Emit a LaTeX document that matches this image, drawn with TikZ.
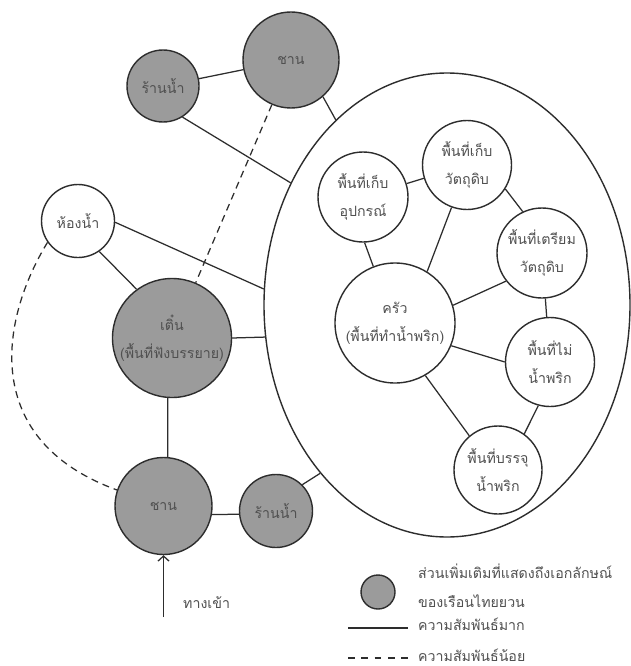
\documentclass[tikz,border=0pt]{standalone}
\usepackage{fontspec}
\newfontfamily\thaifont[Script=Thai]{Loma}
\usetikzlibrary{shapes.geometric,arrows.meta}
\definecolor{fillg}{RGB}{155,155,155}
\definecolor{lineg}{RGB}{45,45,45}
\definecolor{textg}{RGB}{80,80,80}
\begin{document}
\begin{tikzpicture}[x=1pt,y=-1pt,
  every node/.style={font=\thaifont\fontsize{14.2}{28}\selectfont, text=textg, align=center, inner sep=0pt},
  room/.style={circle, draw=lineg, line width=1.4pt, minimum size=#1, fill=white},
  extra/.style={room=#1, fill=fillg},
  link/.style={draw=lineg, line width=1.25pt},
  weak/.style={draw=lineg, line width=1.25pt, dash pattern=on 7pt off 5pt},
  legtext/.style={anchor=west}
]
\useasboundingbox (0,0) rectangle (630,666);
\fill[white] (0,0) rectangle (630,666);

% big ellipse
\node[ellipse, draw=lineg, line width=1.4pt, minimum width=366pt, minimum height=464pt] (ell) at (447,305) {};

% outer nodes
\node[extra=72pt] (ranT) at (163,86) {ร้านน้ำ};
\node[extra=96pt] (chanT) at (291,60) {ชาน};
\node[room=73pt] (hong) at (78,221) {ห้องน้ำ};
\node[extra=119pt] (tern) at (172,338) {เติ๋น\\(พื้นที่ฟังบรรยาย)};
\node[extra=97pt] (chanB) at (163.5,506) {ชาน};
\node[extra=73pt] (ranB) at (276,511) {ร้านน้ำ};

% inner nodes
\node[room=90pt] (upk) at (363,197) {พื้นที่เก็บ\\อุปกรณ์};
\node[room=89pt] (kepw) at (467,165) {พื้นที่เก็บ\\วัตถุดิบ};
\node[room=90pt] (triam) at (542,253) {พื้นที่เตรียม\\วัตถุดิบ};
\node[room=120pt] (krua) at (395,323) {ครัว\\(พื้นที่ทำน้ำพริก)};
\node[room=89pt] (mai) at (550,362) {พื้นที่ไม่\\น้ำพริก};
\node[room=88pt] (banchu) at (498,470) {พื้นที่บรรจุ\\น้ำพริก};

% outer connectors
\draw[link] (ranT) -- (chanT);
\draw[link] (ranT.-58) -- (ell.142);
\draw[link] (chanT.-49) -- (ell.121);
\draw[weak] (chanT) -- (tern);
\draw[link] (hong.-2) -- (ell.175);
\draw[link] (hong.-55) -- (tern.126);
\draw[link] (tern.east) -- (ell.190.4);
\draw[weak] (hong.215) .. controls (0,320) and (-20,440) .. (chanB.161);
\draw[link] (tern.266) -- (chanB.85);
\draw[link] (chanB.-10) -- (ranB.185);
\draw[link] (ranB.45) -- (ell.-127);

% inner connectors
\draw[link] (upk) -- (kepw);
\draw[link] (upk.-88) -- (krua.111);
\draw[link] (kepw.250) -- (krua.58);
\draw[link] (kepw.-32) -- (triam.115);
\draw[link] (triam.218) -- (krua.17);
\draw[link] (triam) -- (mai);
\draw[link] (krua.-22) -- (mai.180);
\draw[link] (krua.-60) -- (banchu.130);
\draw[link] (mai.-105) -- (banchu.54);

% entrance
\coordinate (entry) at (163.5,617);
\draw[link, -{Straight Barb[length=5pt,width=11pt]}] (entry) -- (chanB.south);
\node[legtext] (entrytext) at (183,603) {ทางเข้า};

% legend
\node[extra=34pt] (legc) at (378,592) {};
\node[legtext] (leg1) at (418,571) {ส่วนเพิ่มเติมที่แสดงถึงเอกลักษณ์};
\node[legtext] (leg2) at (418,601) {ของเรือนไทยยวน};
\coordinate (ls1) at (348,628);
\coordinate (ls2) at (408,628);
\draw[link] (ls1) -- (ls2);
\node[legtext] (leg3) at (418,624) {ความสัมพันธ์มาก};
\coordinate (ld1) at (348,658);
\coordinate (ld2) at (408,658);
\draw[link, dash pattern=on 6.6pt off 6.75pt] (ld1) -- (ld2);
\node[legtext] (leg4) at (418,655) {ความสัมพันธ์น้อย};
\end{tikzpicture}
\end{document}
